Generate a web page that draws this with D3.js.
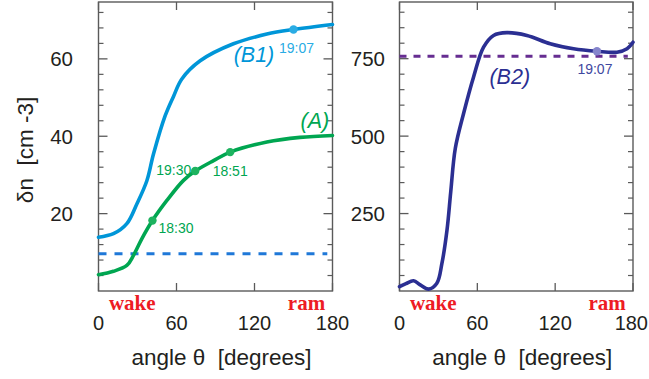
<!DOCTYPE html>
<html>
<head>
<meta charset="utf-8">
<script src="https://cdn.jsdelivr.net/npm/d3@7"></script>
<style>
  html, body { margin: 0; padding: 0; background: #fff; }
  svg { display: block; }
</style>
</head>
<body>
<svg id="chart" width="649" height="379"></svg>
<script>
// ---------- data ----------
const thetaTicks = [0, 60, 120, 180];
const leftYTicks = [20, 40, 60];
const rightYTicks = [250, 500, 750];
const leftMinorStep = 4;
const rightMinorStep = 50;

// (B1) curve, left panel
const thetaB1 = [0, 11.5, 21.8, 29.5, 37.2, 42.3, 51.3, 57.7, 64.1, 78.2, 103.8, 129.5, 150, 180];
const valB1   = [13.9, 14.8, 17.4, 22.5, 28.5, 35.4, 45.3, 50.3, 54.8, 59.5, 63.9, 66.4, 67.6, 68.9];

// (A) curve, left panel
const thetaA = [0, 11.5, 21.8, 26.9, 33.5, 41.5, 52.6, 65.4, 74.4, 88.5, 101.3, 129.5, 155, 180];
const valA   = [4.2, 5.1, 6.6, 9.2, 13.6, 18.2, 23.4, 28.6, 31.0, 33.7, 35.9, 38.5, 39.7, 40.2];

// (B2) curve, right panel
const thetaB2 = [0, 5, 10.8, 16, 22.4, 28.8, 32.7, 36.6, 39.5, 43, 49.4, 57.1, 64.8, 72.5, 82.8, 98.2, 116.2, 134.2, 152.2, 167.7, 175.4, 180];
const valB2   = [14, 24, 33, 20, 6, 25, 89, 196, 320, 460, 573, 691, 787, 825, 834, 825, 798, 782, 774, 771, 782, 803];

const levelB1 = 9.6;    // blue dashed reference
const levelB2 = 758;    // purple dashed reference

const markA = [
  { theta: 41.5, val: 18.2, label: "18:30" },
  { theta: 74.4, val: 31.0, label: "19:30" },
  { theta: 101.3, val: 35.9, label: "18:51" }
];
const markB1 = [{ theta: 150, val: 67.6, label: "19:07" }];
const markB2 = [{ theta: 152.2, val: 774, label: "19:07" }];

const sideLabels = ["wake", "ram"];
const sideTheta = [26, 160];

// ---------- layout ----------
const svg = d3.select("#chart");
const W = 649;
const yTop = 2, yBottom = 291;
const sans = "'Liberation Sans', Arial, sans-serif";
const serif = "'Liberation Serif', 'Times New Roman', serif";
const frameColor = "#5a5a5a";

const C = {
  b1: "#0096d8", b1mark: "#2aace4", b1dash: "#1f78d8",
  a: "#00a651", amark: "#1db35f",
  b2: "#2b2f92", b2mark: "#8585cc", b2dash: "#662d91", b2text: "#3f48a0",
  red: "#ed1c24"
};

function panel(x0, x1, yMax, majorTicks, minorStep, labelRight) {
  const x = d3.scaleLinear().domain([0, 180]).range([x0, x1]);
  const y = d3.scaleLinear().domain([0, yMax]).range([yBottom, yTop]);
  const g = svg.append("g");

  const minor = d3.range(minorStep, yMax, minorStep).filter(v => !majorTicks.includes(v));
  minor.forEach(v => {
    g.append("line").attr("x1", x0).attr("x2", x0 + 5).attr("y1", y(v)).attr("y2", y(v))
      .attr("stroke", frameColor).attr("stroke-width", 1.2);
    g.append("line").attr("x1", x1).attr("x2", x1 - 5).attr("y1", y(v)).attr("y2", y(v))
      .attr("stroke", frameColor).attr("stroke-width", 1.2);
  });
  majorTicks.forEach(v => {
    g.append("line").attr("x1", x0).attr("x2", x0 + 9).attr("y1", y(v)).attr("y2", y(v))
      .attr("stroke", frameColor).attr("stroke-width", 1.3);
    g.append("line").attr("x1", x1).attr("x2", x1 - 9).attr("y1", y(v)).attr("y2", y(v))
      .attr("stroke", frameColor).attr("stroke-width", 1.3);
    g.append("text").attr("x", labelRight).attr("y", y(v)).attr("dy", "0.36em")
      .attr("text-anchor", "end").attr("font-family", sans).attr("font-size", 20.5)
      .attr("fill", "#231f20").text(v);
  });
  thetaTicks.forEach(t => {
    g.append("line").attr("x1", x(t)).attr("x2", x(t)).attr("y1", yBottom).attr("y2", yBottom - 8)
      .attr("stroke", frameColor).attr("stroke-width", 1.3);
    g.append("line").attr("x1", x(t)).attr("x2", x(t)).attr("y1", yTop).attr("y2", yTop + 8)
      .attr("stroke", frameColor).attr("stroke-width", 1.3);
    const lab = g.append("text").attr("x", x(t)).attr("y", 330)
      .attr("text-anchor", "middle").attr("font-family", sans).attr("font-size", 20)
      .attr("fill", "#231f20").text(t);
    const bb = lab.node().getBBox();
    if (bb.x + bb.width > W - 1) {
      lab.attr("text-anchor", "end").attr("x", W - 1);
    }
  });
  g.append("rect").attr("x", x0).attr("y", yTop).attr("width", x1 - x0).attr("height", yBottom - yTop)
    .attr("fill", "none").attr("stroke", frameColor).attr("stroke-width", 1.4);

  sideLabels.forEach((s, i) => {
    g.append("text").attr("x", x(sideTheta[i])).attr("y", 310)
      .attr("text-anchor", "middle").attr("font-family", serif).attr("font-weight", "bold")
      .attr("font-size", 21).attr("fill", C.red).text(s);
  });
  g.append("text").attr("x", (x0 + x1) / 2 + 6).attr("y", 365)
    .attr("text-anchor", "middle").attr("font-family", sans).attr("font-size", 22.5)
    .attr("fill", "#231f20").style("white-space", "pre")
    .text("angle θ  [degrees]");
  return { x, y, g };
}

const L = panel(98.5, 332.5, 74.7, leftYTicks, leftMinorStep, 73);
const R = panel(399.5, 633, 933, rightYTicks, rightMinorStep, 385);

svg.append("text").attr("transform", "translate(33,150) rotate(-90)")
  .attr("text-anchor", "middle").attr("font-family", sans).attr("font-size", 22.5)
  .attr("fill", "#231f20").style("white-space", "pre").text("δn  [cm -3]");

function drawLine(P, th, vals, color) {
  const line = d3.line().x(d => P.x(d[0])).y(d => P.y(d[1])).curve(d3.curveCatmullRom.alpha(0.5));
  P.g.append("path").datum(th.map((t, i) => [t, vals[i]]))
    .attr("d", line).attr("fill", "none").attr("stroke", color)
    .attr("stroke-width", 3.6).attr("stroke-linecap", "round").attr("stroke-linejoin", "round");
}
function drawLevel(P, v, color, dash, x1) {
  P.g.append("line").attr("x1", P.x(0)).attr("x2", P.x(x1)).attr("y1", P.y(v)).attr("y2", P.y(v))
    .attr("stroke", color).attr("stroke-width", 3).attr("stroke-dasharray", dash);
}
function drawMarks(P, marks, color, textColor, offs) {
  marks.forEach((m, i) => {
    P.g.append("circle").attr("cx", P.x(m.theta)).attr("cy", P.y(m.val)).attr("r", 4.2).attr("fill", color);
    const o = offs[i];
    P.g.append("text").attr("x", P.x(m.theta) + o[0]).attr("y", P.y(m.val) + o[1])
      .attr("text-anchor", o[2]).attr("font-family", sans).attr("font-size", 14)
      .attr("fill", textColor).text(m.label);
  });
}

drawLevel(L, levelB1, C.b1dash, "8,8", 176);
drawLine(L, thetaB1, valB1, C.b1);
drawLine(L, thetaA, valA, C.a);
drawMarks(L, markA, C.amark, C.a, [[6, 12, "start"], [-4, 4, "end"], [0, 24, "middle"]]);
drawMarks(L, markB1, C.b1mark, C.b1mark, [[3, 24, "middle"]]);

drawLevel(R, levelB2, C.b2dash, "7,7", 176);
drawLine(R, thetaB2, valB2, C.b2);
drawMarks(R, markB2, C.b2mark, C.b2text, [[-2, 23, "middle"]]);

function seriesLabel(P, t, v, txt, color) {
  P.g.append("text").attr("x", P.x(t)).attr("y", P.y(v)).attr("text-anchor", "middle")
    .attr("font-family", sans).attr("font-style", "italic").attr("font-size", 21.5)
    .attr("fill", color).text(txt);
}
seriesLabel(L, 119.6, 59.2, "(B1)", C.b1);
seriesLabel(L, 166.5, 42.1, "(A)", C.a);
seriesLabel(R, 85, 668, "(B2)", C.b2);
</script>
</body>
</html>
